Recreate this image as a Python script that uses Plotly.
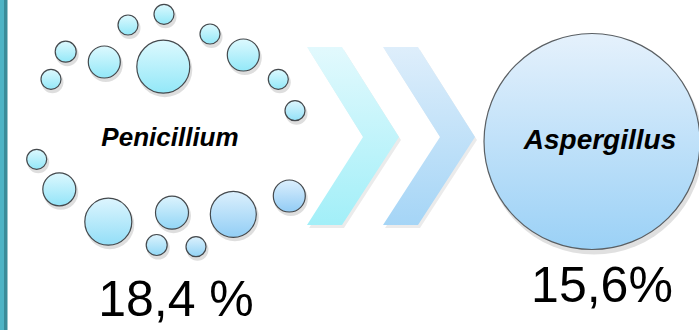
import plotly.graph_objects as go

# ---- data ----
genera = ["Penicillium", "Aspergillus"]
percent_values = [18.4, 15.6]
percent_labels = ["18,4 %", "15,6%"]

W, H = 699, 330


def Y(py):
    return H - py


fig = go.Figure()

# left decorative stripe
fig.add_shape(type="rect", x0=0, x1=4, y0=0, y1=H, line_width=0, fillcolor="#4DB3C4", layer="below")
fig.add_shape(type="rect", x0=4, x1=7.5, y0=0, y1=H, line_width=0, fillcolor="#3A8B98", layer="below")

# ring of small circles (layout: x, y, diameter)
ring_x = [65.7, 51, 128, 164, 210, 278.3, 295, 104.3, 243.3, 163.3,
          36.7, 59.3, 108.3, 172, 233.3, 289.3, 156.7, 196]
ring_y = [51.7, 79.3, 25, 14.3, 34, 79.3, 110.7, 62, 55, 66.7,
          159.3, 189.3, 221.7, 212.7, 214.3, 196, 245, 246.7]
ring_d = [21, 20, 20, 20, 20, 20, 20, 32, 32, 53,
          20, 33, 47, 33, 46, 32, 21, 20]


def mix(c1, c2, t):
    a = [int(c1[i:i + 2], 16) for i in (1, 3, 5)]
    b = [int(c2[i:i + 2], 16) for i in (1, 3, 5)]
    return "#" + "".join(f"{round(a[k] + (b[k] - a[k]) * t):02x}" for k in range(3))


tops, bots = [], []
for x, y in zip(ring_x, ring_y):
    if y < 130:
        t = 0.0 if y < 100 else 0.25
    else:
        t = min(1.0, max(0.0, (x - 30) / 220))
    tops.append(mix("#DDF9FE", "#DCEFFD", t))
    bots.append(mix("#93E8F8", "#92CCF5", t))

# shadows
fig.add_trace(go.Scatter(
    x=[x + 1.5 for x in ring_x], y=[Y(y + 3) for y in ring_y], mode="markers",
    marker=dict(size=[d + 2 for d in ring_d], color="rgba(0,0,0,0.13)", line_width=0, opacity=1),
    hoverinfo="skip", showlegend=False))
fig.add_trace(go.Scatter(
    x=ring_x, y=[Y(y) for y in ring_y], mode="markers",
    marker=dict(size=ring_d, color=tops, opacity=1,
                gradient=dict(type="vertical", color=bots),
                line=dict(color="#44494D", width=1.2)),
    hoverinfo="skip", showlegend=False))

# chevrons
chev_defs = [
    dict(left=307, right=342, notch=363, tip=399, top="#E2F9FD", bot="#A2EFF8"),
    dict(left=383, right=418, notch=440, tip=475, top="#DEEEFB", bot="#A5D5F6"),
]
cy_top, cy_mid, cy_bot = 47, 137, 225
for c in chev_defs:
    px = [c["left"], c["right"], c["tip"], c["right"], c["left"], c["notch"], c["left"]]
    py = [cy_top, cy_top, cy_mid, cy_bot, cy_bot, cy_mid, cy_top]
    fig.add_trace(go.Scatter(
        x=[v + 2 for v in px], y=[Y(v + 3) for v in py], mode="lines", fill="toself",
        fillcolor="rgba(0,0,0,0.08)", line_width=0, hoverinfo="skip", showlegend=False))
    fig.add_trace(go.Scatter(
        x=px, y=[Y(v) for v in py], mode="lines", fill="toself",
        fillgradient=dict(type="vertical", colorscale=[[0, c["bot"]], [1, c["top"]]]),
        line_width=0, hoverinfo="skip", showlegend=False))

# big Aspergillus circle
big_x, big_y, big_d = 592, 141.5, 216
fig.add_trace(go.Scatter(
    x=[big_x + 2], y=[Y(big_y + 4)], mode="markers",
    marker=dict(size=big_d + 2, color="rgba(0,0,0,0.12)", line_width=0),
    hoverinfo="skip", showlegend=False))
fig.add_trace(go.Scatter(
    x=[big_x], y=[Y(big_y)], mode="markers",
    marker=dict(size=big_d, color="#E5F1FC", opacity=1,
                gradient=dict(type="vertical", color="#9BD1F6"),
                line=dict(color="#5A5F63", width=1.2)),
    hoverinfo="skip", showlegend=False))

# genus labels
fig.add_trace(go.Scatter(
    x=[170, 600], y=[Y(139), Y(142)], mode="text", text=genera,
    textposition="middle center",
    textfont=dict(family="Liberation Sans, Arial", size=[26, 28], color="#000000",
                  weight="bold", style="italic"),
    hoverinfo="skip", showlegend=False))

# percentages
fig.add_trace(go.Scatter(
    x=[176, 602], y=[Y(303), Y(289)], mode="text", text=percent_labels,
    customdata=percent_values,
    textposition="middle center",
    textfont=dict(family="Liberation Sans, Arial", size=50, color="#000000"),
    hoverinfo="skip", showlegend=False))

fig.update_layout(
    width=W, height=H, margin=dict(l=0, r=0, t=0, b=0),
    paper_bgcolor="white", plot_bgcolor="white",
    xaxis=dict(range=[0, W], visible=False, fixedrange=True),
    yaxis=dict(range=[0, H], visible=False, fixedrange=True),
    showlegend=False,
)

fig.write_html("out.html")
